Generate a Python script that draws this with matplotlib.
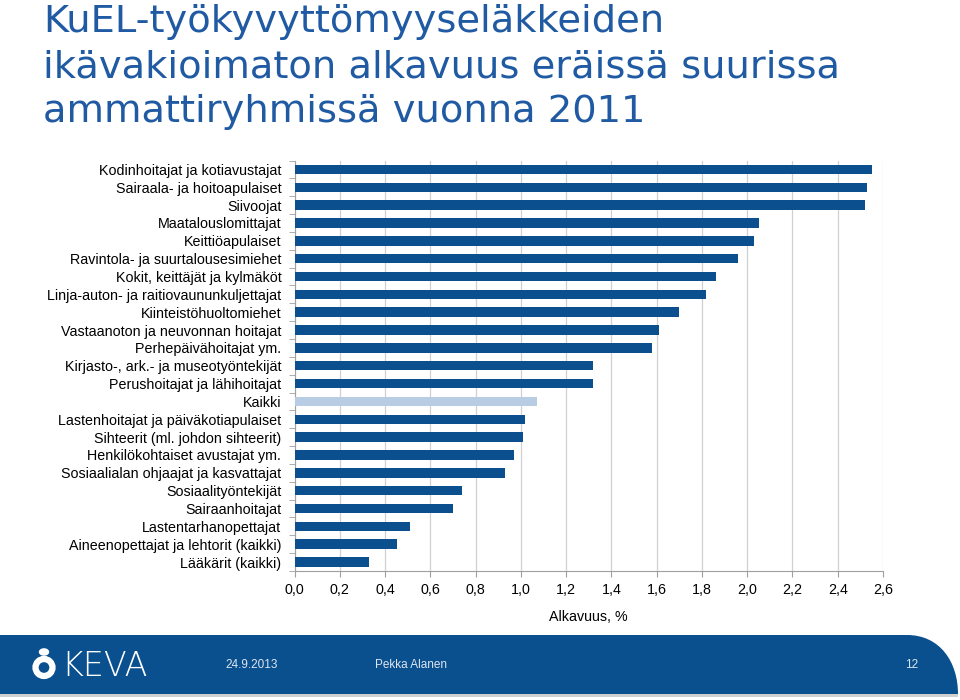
import matplotlib
matplotlib.use("Agg")
import matplotlib.pyplot as plt
from matplotlib.patches import Rectangle, PathPatch, Circle, Ellipse
from matplotlib.path import Path
import numpy as np

categories = [
    "Kodinhoitajat ja kotiavustajat",
    "Sairaala- ja hoitoapulaiset",
    "Siivoojat",
    "Maatalouslomittajat",
    "Keittiöapulaiset",
    "Ravintola- ja suurtalousesimiehet",
    "Kokit, keittäjät ja kylmäköt",
    "Linja-auton- ja raitiovaununkuljettajat",
    "Kiinteistöhuoltomiehet",
    "Vastaanoton ja neuvonnan hoitajat",
    "Perhepäivähoitajat ym.",
    "Kirjasto-, ark.- ja museotyöntekijät",
    "Perushoitajat ja lähihoitajat",
    "Kaikki",
    "Lastenhoitajat ja päiväkotiapulaiset",
    "Sihteerit (ml. johdon sihteerit)",
    "Henkilökohtaiset avustajat ym.",
    "Sosiaalialan ohjaajat ja kasvattajat",
    "Sosiaalityöntekijät",
    "Sairaanhoitajat",
    "Lastentarhanopettajat",
    "Aineenopettajat ja lehtorit (kaikki)",
    "Lääkärit (kaikki)",
]
values = [2.55, 2.53, 2.52, 2.05, 2.03, 1.96, 1.86, 1.82, 1.70, 1.61, 1.58, 1.32,
          1.32, 1.07, 1.02, 1.01, 0.97, 0.93, 0.74, 0.70, 0.51, 0.455, 0.33]
xticks = [0.0, 0.2, 0.4, 0.6, 0.8, 1.0, 1.2, 1.4, 1.6, 1.8, 2.0, 2.2, 2.4, 2.6]
xtick_labels = ["0,0", "0,2", "0,4", "0,6", "0,8", "1,0", "1,2", "1,4", "1,6",
                "1,8", "2,0", "2,2", "2,4", "2,6"]
title_lines = ["KuEL-työkyvyttömyyseläkkeiden",
               "ikävakioimaton alkavuus eräissä suurissa",
               "ammattiryhmissä vuonna 2011"]
xlabel = "Alkavuus, %"
footer_date = "24.9.2013"
footer_author = "Pekka Alanen"
footer_page = "12"

DARK = "#0B4F8F"
LIGHT = "#B8CCE4"
plt.rcParams['font.family'] = ['Liberation Sans', 'DejaVu Sans']

W, H = 960, 700
fig = plt.figure(figsize=(9.6, 7.0), dpi=100)
fig.patch.set_facecolor("white")

# Title, one text per line, placed on baselines
for i, line in enumerate(title_lines):
    fig.text(43 / W, 1 - (32 + 45 * i) / H, line, ha="left", va="baseline",
             fontsize=27.6, color="#1F5AA3", family=["DejaVu Sans"],
             fontweight="normal")

# Chart axes
left, right, top, bottom = 294.5, 883, 160.5, 571
ax = fig.add_axes([left / W, 1 - bottom / H, (right - left) / W, (bottom - top) / H])
n = len(categories)
y = np.arange(n)
colors = [LIGHT if c == "Kaikki" else DARK for c in categories]
ax.barh(y, values, height=0.53, color=colors, zorder=3)
ax.set_ylim(n - 0.5, -0.5)
ax.set_xlim(0, 2.6)
ax.set_xticks(xticks)
ax.set_xticklabels(xtick_labels, fontsize=10.3)
ax.set_yticks(y)
ax.set_yticklabels(categories, fontsize=10.3)
ax.set_yticks(np.arange(-0.5, n, 1), minor=True)
ax.tick_params(axis="y", which="major", length=0, pad=9.5)
ax.tick_params(axis="y", which="minor", length=4, color="#A0A0A0", direction="out")
ax.tick_params(axis="x", which="major", length=4, color="#A0A0A0", pad=5)
ax.grid(axis="x", color="#D0D0D0", linewidth=0.9, zorder=0)
for s in ["top", "right"]:
    ax.spines[s].set_visible(False)
ax.spines["left"].set_color("#A0A0A0")
ax.spines["bottom"].set_color("#A0A0A0")
ax.set_xlabel(xlabel, fontsize=10.3, labelpad=9)

# Footer band with curved right edge
y0 = 1 - 694 / H
y1 = 1 - 635 / H
verts = [(0, y0), (0, y1), (907 / W, y1), (940 / W, y1), (958 / W, 1 - 662 / H),
         (958 / W, y0), (0, y0)]
codes = [Path.MOVETO, Path.LINETO, Path.LINETO, Path.CURVE4, Path.CURVE4, Path.CURVE4,
         Path.CLOSEPOLY]
fig.patches.append(PathPatch(Path(verts, codes), transform=fig.transFigure,
                             facecolor="#0A4F8E", edgecolor="none", zorder=0))
fig.patches.append(Rectangle((0, 1 - 697 / H), 958 / W, 3 / H, transform=fig.transFigure,
                             facecolor="#D0D0D0", edgecolor="none"))

# Logo
fig.patches.append(Circle((44 / W, 1 - 652 / H), 3.8 / H, transform=fig.transFigure,
                          facecolor="white", edgecolor="none"))
fig.patches.append(Ellipse((44 / W, 1 - 667.5 / H), 17 / W, 17 / H, transform=fig.transFigure,
                           facecolor="none", edgecolor="white", linewidth=4.5))
fig.text(61 / W, 1 - 667 / H, "KEVA", ha="left", va="center", fontsize=24,
         color="white", family=["DejaVu Sans"], fontweight="light")

fig.text(225 / W, 1 - 665 / H, footer_date, ha="left", va="center", fontsize=8.5, color="#DDE6F0")
fig.text(375 / W, 1 - 665 / H, footer_author, ha="left", va="center", fontsize=8.5, color="#DDE6F0")
fig.text(918 / W, 1 - 665 / H, footer_page, ha="right", va="center", fontsize=8.5, color="#DDE6F0")

fig.savefig("out.png", dpi=100, facecolor="white")
